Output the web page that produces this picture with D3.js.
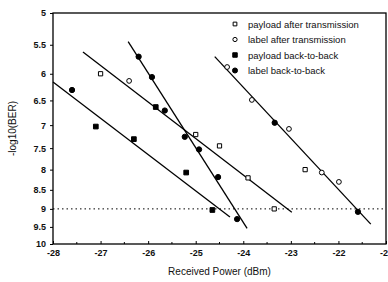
<!DOCTYPE html>
<html>
<head>
<meta charset="utf-8">
<script src="https://cdn.jsdelivr.net/npm/d3@7"></script>
<style>
  body { margin: 0; background: #fff; }
  svg { display: block; }
  text { font-family: "Liberation Sans", Arial, sans-serif; fill: #111; }
</style>
</head>
<body>
<svg id="chart" width="388" height="282"></svg>
<script>
// data
var seriesNames = ["payload after transmission", "label after transmission",
                   "payload back-to-back", "label back-to-back"];

var payloadAfterX = [-27.0, -25.0, -24.5, -23.9, -23.35, -22.7];
var payloadAfterY = [6.0, 7.2, 7.45, 8.2, 9.0, 8.0];

var labelAfterX = [-26.4, -24.34, -23.82, -23.04, -22.35, -21.99];
var labelAfterY = [6.13, 5.88, 6.49, 7.08, 8.07, 8.3];

var payloadB2BX = [-27.1, -26.3, -25.84, -25.2, -24.65];
var payloadB2BY = [7.03, 7.3, 6.63, 8.07, 9.03];

var labelB2BX = [-27.6, -26.2, -25.92, -25.65, -25.23, -24.93, -24.53, -24.13, -23.34, -21.59];
var labelB2BY = [6.3, 5.7, 6.06, 6.7, 7.25, 7.53, 8.18, 9.28, 6.95, 9.08];

// fitted lines, [x0, y0, x1, y1]
var fitLines = [
  [-28, 6.15, -24.28, 9.22],
  [-27.37, 5.62, -22.98, 9.09],
  [-26.42, 5.45, -23.92, 9.54],
  [-24.6, 5.7, -21.32, 9.42]
];

var xTicks = [-28, -27, -26, -25, -24, -23, -22, -21];
var xTickLabels = ["-28", "-27", "-26", "-25", "-24", "-23", "-22", "-21"];
var yTicks = [5, 5.5, 6, 6.5, 7, 7.5, 8, 8.5, 9, 9.5, 10];
var threshold = 9;

var svg = d3.select("#chart");
var plotLeft = 53, plotRight = 386, plotTop = 13, plotBottom = 244;

var x = d3.scaleLinear().domain([-28, -21]).range([plotLeft, plotRight]);
var y = d3.scaleLog().domain([5, 10]).range([plotTop, plotBottom]);

// frame
svg.append("rect")
  .attr("x", plotLeft).attr("y", plotTop)
  .attr("width", plotRight - plotLeft).attr("height", plotBottom - plotTop)
  .attr("fill", "none").attr("stroke", "#000").attr("stroke-width", 1.3);

// x axis
var xAxis = d3.axisBottom(x)
  .tickValues(xTicks)
  .tickFormat(function(d, i) { return xTickLabels[i]; })
  .tickSize(-3).tickPadding(6);
var gx = svg.append("g").attr("transform", "translate(0," + plotBottom + ")").call(xAxis);
gx.select(".domain").remove();
gx.selectAll("text").attr("font-size", 9).attr("font-weight", "bold")
  .style("font-family", "Liberation Sans, Arial, sans-serif");

// minor x ticks
svg.append("g").selectAll("line")
  .data(d3.range(-27.5, -21, 1))
  .enter().append("line")
  .attr("x1", function(d) { return x(d); }).attr("x2", function(d) { return x(d); })
  .attr("y1", plotBottom).attr("y2", plotBottom - 2)
  .attr("stroke", "#000");

// y axis
var yAxis = d3.axisLeft(y)
  .tickValues(yTicks)
  .tickFormat(function(d) { return d; })
  .tickSize(3).tickPadding(4);
var gy = svg.append("g").attr("transform", "translate(" + plotLeft + ",0)").call(yAxis);
gy.select(".domain").remove();
gy.selectAll("text").attr("font-size", 9).attr("font-weight", "bold")
  .style("font-family", "Liberation Sans, Arial, sans-serif");

// axis titles
svg.append("text")
  .attr("x", (plotLeft + plotRight) / 2).attr("y", 275)
  .attr("text-anchor", "middle").attr("font-size", 10)
  .text("Received Power (dBm)");

svg.append("text")
  .attr("transform", "translate(16," + ((plotTop + plotBottom) / 2) + ") rotate(-90)")
  .attr("text-anchor", "middle").attr("font-size", 10)
  .text("-log10(BER)");

// dotted threshold
svg.append("line")
  .attr("x1", x(-28)).attr("x2", x(-21))
  .attr("y1", y(threshold)).attr("y2", y(threshold))
  .attr("stroke", "#000").attr("stroke-width", 1)
  .attr("stroke-dasharray", "1.5,3");

// fitted lines
svg.append("g").selectAll("line")
  .data(fitLines)
  .enter().append("line")
  .attr("x1", function(d) { return x(d[0]); }).attr("y1", function(d) { return y(d[1]); })
  .attr("x2", function(d) { return x(d[2]); }).attr("y2", function(d) { return y(d[3]); })
  .attr("stroke", "#000").attr("stroke-width", 1.3);

// markers
function drawSeries(xs, ys, shape, filled) {
  var pts = xs.map(function(v, i) { return [v, ys[i]]; });
  svg.append("g").selectAll("path").data(pts).enter().append("path")
    .attr("transform", function(d) { return "translate(" + x(d[0]) + "," + y(d[1]) + ")"; })
    .attr("d", d3.symbol().type(shape).size(filled ? 22 : 18))
    .attr("fill", filled ? "#000" : "#fff")
    .attr("stroke", "#000").attr("stroke-width", 1);
}
drawSeries(payloadAfterX, payloadAfterY, d3.symbolSquare, false);
drawSeries(labelAfterX, labelAfterY, d3.symbolCircle, false);
drawSeries(payloadB2BX, payloadB2BY, d3.symbolSquare, true);
drawSeries(labelB2BX, labelB2BY, d3.symbolCircle, true);

// legend
var legendShapes = [d3.symbolSquare, d3.symbolCircle, d3.symbolSquare, d3.symbolCircle];
var legendFilled = [false, false, true, true];
var leg = svg.append("g");
seriesNames.forEach(function(name, i) {
  var ly = 24 + i * 15.5;
  leg.append("path")
    .attr("transform", "translate(235," + ly + ")")
    .attr("d", d3.symbol().type(legendShapes[i]).size(legendFilled[i] ? 20 : 14))
    .attr("fill", legendFilled[i] ? "#000" : "#fff")
    .attr("stroke", "#000");
  leg.append("text")
    .attr("x", 248).attr("y", ly + 3.5)
    .attr("font-size", 9.5)
    .text(name);
});
</script>
</body>
</html>
